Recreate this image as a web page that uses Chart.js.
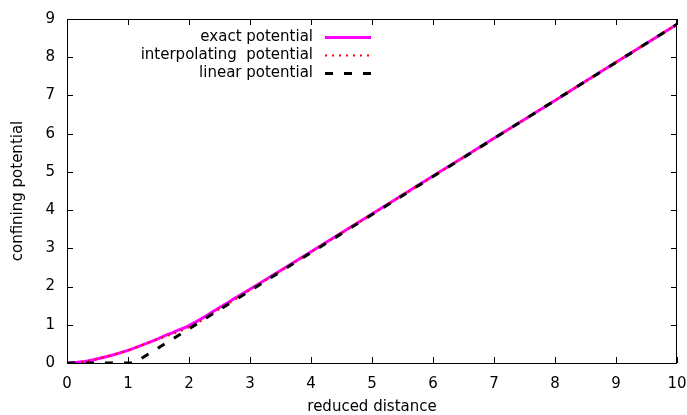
<!DOCTYPE html>
<html>
<head>
<meta charset="utf-8">
<script src="https://cdn.jsdelivr.net/npm/chart.js@4"></script>
<style>
  html, body { margin: 0; padding: 0; background: #fff; }
  #wrap { width: 687px; height: 415px; }
</style>
</head>
<body>
<div id="wrap"><canvas id="potentialChart"></canvas></div>
<script>
// values
const exactX = [0, 0.25, 0.5, 0.75, 1, 1.25, 1.5, 1.75, 2, 2.25, 2.5, 2.75, 3, 3.5, 4, 5, 6, 7, 8, 9, 10];
const exactY = [0, 0.03, 0.11, 0.21, 0.33, 0.48, 0.64, 0.81, 0.98, 1.2, 1.45, 1.69, 1.93, 2.42, 2.91, 3.9, 4.89, 5.88, 6.87, 7.87, 8.86];
const interpX = [0, 0.25, 0.5, 0.75, 1, 1.25, 1.5, 1.75, 2, 2.25, 2.5, 2.75, 3, 4, 5, 6, 7, 8, 9, 10];
const interpY = [0, 0.03, 0.11, 0.21, 0.33, 0.48, 0.63, 0.77, 0.93, 1.15, 1.41, 1.66, 1.91, 2.9, 3.89, 4.88, 5.88, 6.87, 7.87, 8.86];
const linearX = [0, 1.1, 10];
const linearY = [0, 0, 8.86];
const seriesLabels = ['exact potential', 'interpolating  potential', 'linear potential'];
const xTicks = [0, 1, 2, 3, 4, 5, 6, 7, 8, 9, 10];
const yTicks = [0, 1, 2, 3, 4, 5, 6, 7, 8, 9];

const FONT = 'DejaVu Sans';
const pts = (xs, ys) => xs.map((x, i) => ({ x: x, y: ys[i] }));

// gnuplot style frame: box on all sides, ticks pointing inward, legend inside
const framePlugin = {
    id: 'frame',
    afterDatasetsDraw(chart) {
        const { ctx, chartArea: a, scales } = chart;
        ctx.save();
        ctx.strokeStyle = '#000';
        ctx.lineWidth = 1;
        ctx.strokeRect(a.left + 0.5, a.top + 0.5, a.right - a.left - 1, a.bottom - a.top);
        ctx.beginPath();
        const tl = 6;
        xTicks.forEach(v => {
            const px = Math.round(scales.x.getPixelForValue(v)) + 0.5;
            ctx.moveTo(px, a.bottom); ctx.lineTo(px, a.bottom - tl);
            ctx.moveTo(px, a.top); ctx.lineTo(px, a.top + tl);
        });
        yTicks.forEach(v => {
            const py = Math.round(scales.y.getPixelForValue(v)) + 0.5;
            ctx.moveTo(a.left, py); ctx.lineTo(a.left + tl, py);
            ctx.moveTo(a.right, py); ctx.lineTo(a.right - tl, py);
        });
        ctx.stroke();

        // legend
        ctx.font = '15px "' + FONT + '"';
        ctx.textAlign = 'right';
        ctx.textBaseline = 'middle';
        chart.data.datasets.forEach((ds, i) => {
            const y = 37 + i * 18;
            ctx.fillStyle = '#000';
            ctx.fillText(ds.label, 313, y);
            ctx.beginPath();
            ctx.strokeStyle = ds.borderColor;
            ctx.lineWidth = ds.borderWidth;
            ctx.setLineDash(ds.borderDash || []);
            ctx.moveTo(325, y + 0.5);
            ctx.lineTo(371, y + 0.5);
            ctx.stroke();
        });
        ctx.restore();
    }
};

const ctx = document.getElementById('potentialChart').getContext('2d');
const potentialChart = new Chart(ctx, {
    type: 'line',
    data: {
        datasets: [
            { label: seriesLabels[0], data: pts(exactX, exactY), borderColor: '#ff00ff', borderWidth: 3, order: 3, cubicInterpolationMode: 'monotone' },
            { label: seriesLabels[1], data: pts(interpX, interpY), borderColor: '#ff0000', borderWidth: 2, borderDash: [2, 5], order: 2, cubicInterpolationMode: 'monotone' },
            { label: seriesLabels[2], data: pts(linearX, linearY), borderColor: '#000000', borderWidth: 3, borderDash: [8, 11], order: 1 }
        ]
    },
    options: {
        responsive: true,
        maintainAspectRatio: false,
        animation: false,
        elements: { point: { radius: 0 } },
        layout: { padding: { top: 19, right: 10, left: 4, bottom: 0 } },
        plugins: { legend: { display: false }, tooltip: { enabled: false } },
        scales: {
            x: {
                type: 'linear', min: 0, max: 10,
                afterBuildTicks: s => { s.ticks = xTicks.map(v => ({ value: v })); },
                afterFit: s => { s.height = 52; s.paddingLeft = 0; s.paddingRight = 0; },
                grid: { display: false },
                border: { display: false },
                ticks: { color: '#000', font: { family: FONT, size: 15 }, padding: 4, maxRotation: 0 },
                title: { display: true, text: 'reduced distance', color: '#000', font: { family: FONT, size: 15, lineHeight: 1 }, padding: { top: 0, bottom: 0 } }
            },
            y: {
                type: 'linear', min: 0, max: 9,
                afterBuildTicks: s => { s.ticks = yTicks.map(v => ({ value: v })); },
                afterFit: s => { s.width = 63; s.paddingTop = 0; s.paddingBottom = 0; },
                grid: { display: false },
                border: { display: false },
                ticks: { color: '#000', font: { family: FONT, size: 15 }, padding: 4 },
                title: { display: true, text: 'confining potential', color: '#000', font: { family: FONT, size: 15 }, padding: { top: 5, bottom: 0 } }
            }
        }
    },
    plugins: [framePlugin]
});
</script>
</body>
</html>
